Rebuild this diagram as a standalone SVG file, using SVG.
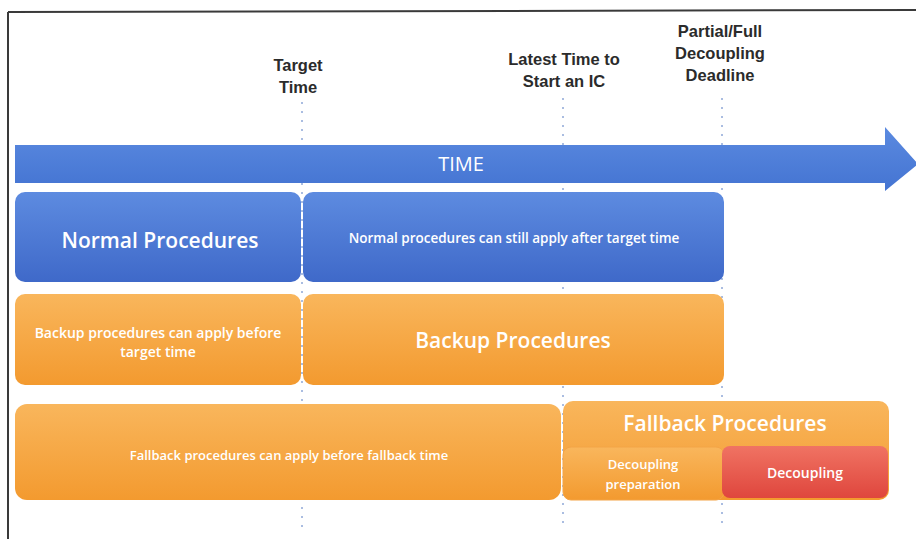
<svg xmlns="http://www.w3.org/2000/svg" width="916" height="539" viewBox="0 0 916 539">
  <defs>
    <linearGradient id="gBlue" x1="0" y1="0" x2="0" y2="1">
      <stop offset="0" stop-color="#5d8be0"/>
      <stop offset="1" stop-color="#3f69c9"/>
    </linearGradient>
    <linearGradient id="gArrow" x1="0" y1="0" x2="0" y2="1">
      <stop offset="0" stop-color="#5b8ae0"/>
      <stop offset="1" stop-color="#4474d2"/>
    </linearGradient>
    <linearGradient id="gOrange" x1="0" y1="0" x2="0" y2="1">
      <stop offset="0" stop-color="#f9b65c"/>
      <stop offset="1" stop-color="#f39a2f"/>
    </linearGradient>
    <linearGradient id="gRed" x1="0" y1="0" x2="0" y2="1">
      <stop offset="0" stop-color="#f07363"/>
      <stop offset="1" stop-color="#df463d"/>
    </linearGradient>
    <style>
      .hdr { font-family: "Liberation Sans", Arial, sans-serif; font-weight: bold; font-size: 16.5px; fill: #2b2b2b; text-anchor: middle; }
      .big { font-family: "Open Sans", "Liberation Sans", sans-serif; font-weight: 600; font-size: 21px; fill: #ffffff; text-anchor: middle; }
      .sm { font-family: "Open Sans", "Liberation Sans", sans-serif; font-weight: 600; font-size: 13.5px; fill: #ffffff; text-anchor: middle; }
      .fb { font-family: "Open Sans", "Liberation Sans", sans-serif; font-weight: 600; font-size: 13px; fill: #ffffff; text-anchor: middle; }
      .mid { font-family: "Open Sans", "Liberation Sans", sans-serif; font-weight: 600; font-size: 14px; fill: #ffffff; text-anchor: middle; }
      .dp { font-family: "Open Sans", "Liberation Sans", sans-serif; font-weight: 600; font-size: 13px; fill: #ffffff; text-anchor: middle; }
      .dot { stroke: #8ea8d8; stroke-width: 1.5; stroke-dasharray: 2 7; fill: none; }
      .frame { stroke: #3a3a3a; stroke-width: 2; fill: none; }
    </style>
  </defs>
  <rect x="0" y="0" width="916" height="539" fill="#ffffff"/>
  <g id="frame">
    <line class="frame" x1="8" y1="12" x2="916" y2="10"/>
    <line class="frame" x1="8" y1="12" x2="8" y2="539"/>
  </g>
  <g id="connectors">
    <line class="dot" x1="302" y1="102" x2="302" y2="530"/>
    <line class="dot" x1="563" y1="98" x2="563" y2="530"/>
    <line class="dot" x1="722" y1="98" x2="722" y2="530"/>
  </g>
  <g id="label-target">
    <text class="hdr" x="298" y="71">Target</text>
    <text class="hdr" x="298" y="93">Time</text>
  </g>
  <g id="label-latest">
    <text class="hdr" x="564" y="65">Latest Time to</text>
    <text class="hdr" x="564" y="87">Start an IC</text>
  </g>
  <g id="label-deadline">
    <text class="hdr" x="720" y="37">Partial/Full</text>
    <text class="hdr" x="720" y="59">Decoupling</text>
    <text class="hdr" x="720" y="81">Deadline</text>
  </g>
  <g id="time-arrow">
    <path d="M15,145 L885,145 L885,127 L918,164 L885,191 L885,183 L15,183 Z" fill="url(#gArrow)"/>
    <text x="461" y="171" font-family="Open Sans, Liberation Sans, sans-serif" font-size="20" fill="#ffffff" text-anchor="middle">TIME</text>
  </g>
  <g id="normal-procedures">
    <rect x="15" y="192" width="286" height="90" rx="10" fill="url(#gBlue)"/>
    <text class="big" x="160" y="248">Normal Procedures</text>
  </g>
  <g id="normal-after">
    <rect x="303" y="192" width="421" height="90" rx="10" fill="url(#gBlue)"/>
    <text class="sm" x="514" y="243">Normal procedures can still apply after target time</text>
  </g>
  <g id="backup-before">
    <rect x="15" y="294" width="286" height="91" rx="10" fill="url(#gOrange)"/>
    <text class="mid" x="158" y="338">Backup procedures can apply before</text>
    <text class="mid" x="158" y="357">target time</text>
  </g>
  <g id="backup-procedures">
    <rect x="303" y="294" width="421" height="91" rx="10" fill="url(#gOrange)"/>
    <text class="big" x="513" y="348">Backup Procedures</text>
  </g>
  <g id="fallback-before">
    <rect x="15" y="404" width="546" height="96" rx="12" fill="url(#gOrange)"/>
    <text class="fb" x="289" y="460">Fallback procedures can apply before fallback time</text>
  </g>
  <g id="fallback-procedures">
    <rect x="563" y="401" width="326" height="99" rx="10" fill="url(#gOrange)"/>
    <text class="big" x="725" y="431">Fallback Procedures</text>
  </g>
  <g id="decoupling-preparation">
    <rect x="563" y="447" width="161" height="53" rx="8" fill="url(#gOrange)" stroke="#f3a447" stroke-width="1"/>
    <text class="dp" x="643" y="469">Decoupling</text>
    <text class="dp" x="643" y="489">preparation</text>
  </g>
  <g id="decoupling">
    <rect x="722" y="446" width="166" height="52" rx="8" fill="url(#gRed)"/>
    <text class="mid" x="805" y="478">Decoupling</text>
  </g>
</svg>
